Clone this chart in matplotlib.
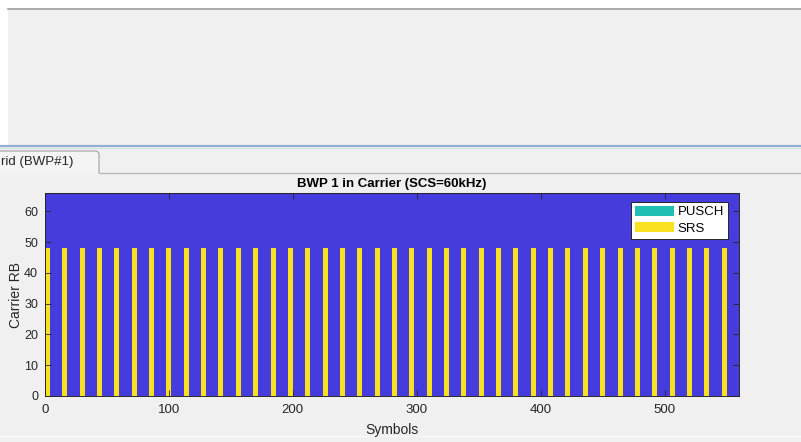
import numpy as np
import matplotlib.pyplot as plt
from matplotlib.colors import ListedColormap
from matplotlib.patches import Patch, Rectangle, FancyBboxPatch

plt.rcParams["font.family"] = ["Liberation Sans", "DejaVu Sans"]

# carrier / BWP setup
carrier_rbs = 66
n_slots = 40
symbols_per_slot = 14
srs_symbols = [0, 1, 2, 3]      # SRS symbols inside each slot
srs_rbs = 48                    # SRS occupies RB 0..47
channel_names = ["PUSCH", "SRS"]
xticks = [0, 100, 200, 300, 400, 500]
yticks = [0, 10, 20, 30, 40, 50, 60]

n_symbols = n_slots * symbols_per_slot
grid = np.zeros((carrier_rbs, n_symbols))
for slot in range(n_slots):
    for s in srs_symbols:
        grid[:srs_rbs, slot * symbols_per_slot + s] = 2

blue = "#463BDC"
teal = "#20BFB2"
yellow = "#F8E11F"
dark = "#262626"
panel = "#F0F0F0"

W, H = 801, 442
fig = plt.figure(figsize=(W / 100, H / 100), dpi=100)
fig.patch.set_facecolor("white")

# window chrome drawn in pixel coordinates
bg = fig.add_axes([0, 0, 1, 1])
bg.set_xlim(0, W)
bg.set_ylim(H, 0)
bg.axis("off")
bg.add_patch(Rectangle((8, 8), W - 8, 137, facecolor=panel, edgecolor="none"))
bg.plot([8, W], [8.5, 8.5], color="#A0A0A0", lw=1.2)
bg.add_patch(Rectangle((0, 146), W, H - 146, facecolor=panel, edgecolor="none"))
bg.plot([0, W], [145.5, 145.5], color="#8FB0D6", lw=1.6)
bg.plot([0, W], [147.5, 147.5], color="#D6DEE8", lw=0.8)
bg.add_patch(FancyBboxPatch((-10, 151), 109, 30, boxstyle="round,pad=0,rounding_size=4",
                            facecolor="#F4F4F4", edgecolor="#A8A8A8", lw=0.9))
bg.add_patch(Rectangle((0, 173), W, H - 173, facecolor=panel, edgecolor="none"))
bg.plot([99, W], [172.5, 172.5], color="#B4B4B4", lw=0.9)
bg.plot([0, W], [435.5, 435.5], color="#FAFAFA", lw=1.0)
bg.text(1, 162, "rid (BWP#1)", fontsize=9.5, color=dark, va="center", ha="left")

ax = fig.add_axes([45 / W, (H - 396) / H, (739 - 45) / W, (396 - 193) / H])
cmap = ListedColormap([blue, teal, yellow])
ax.imshow(grid, cmap=cmap, vmin=0, vmax=2, origin="lower", aspect="auto",
          extent=(0, n_symbols, 0, carrier_rbs), interpolation="nearest")
ax.set_xlim(0, n_symbols)
ax.set_ylim(0, carrier_rbs)
ax.set_xticks(xticks)
ax.set_yticks(yticks)
ax.tick_params(direction="in", length=4, width=0.6, color=dark, labelcolor=dark,
               labelsize=9.5, top=True, right=True)
ax.tick_params(axis="x", pad=6)
ax.tick_params(axis="y", pad=5, labelsize=9)
for sp in ax.spines.values():
    sp.set_color(dark)
    sp.set_linewidth(0.7)
ax.set_title("BWP 1 in Carrier (SCS=60kHz)", fontsize=9.5, fontweight="bold",
             color="black", pad=4)
ax.set_xlabel("Symbols", fontsize=10, color=dark, labelpad=5)
ax.set_ylabel("Carrier RB", fontsize=10, color=dark)
ax.yaxis.set_label_coords((23 - 45) / (739 - 45), 0.5)

handles = [Patch(facecolor=teal, edgecolor="none"),
           Patch(facecolor=yellow, edgecolor="none")]
leg = ax.legend(handles, channel_names, loc="upper right", bbox_to_anchor=(0.984, 0.956),
                fontsize=9.5, frameon=True, fancybox=False, framealpha=1,
                handlelength=2.9, handleheight=0.75, handletextpad=0.3,
                borderpad=0.3, labelspacing=0.3, borderaxespad=0)
leg.get_frame().set_edgecolor(dark)
leg.get_frame().set_linewidth(0.7)

plt.savefig("out.png", dpi=100)
